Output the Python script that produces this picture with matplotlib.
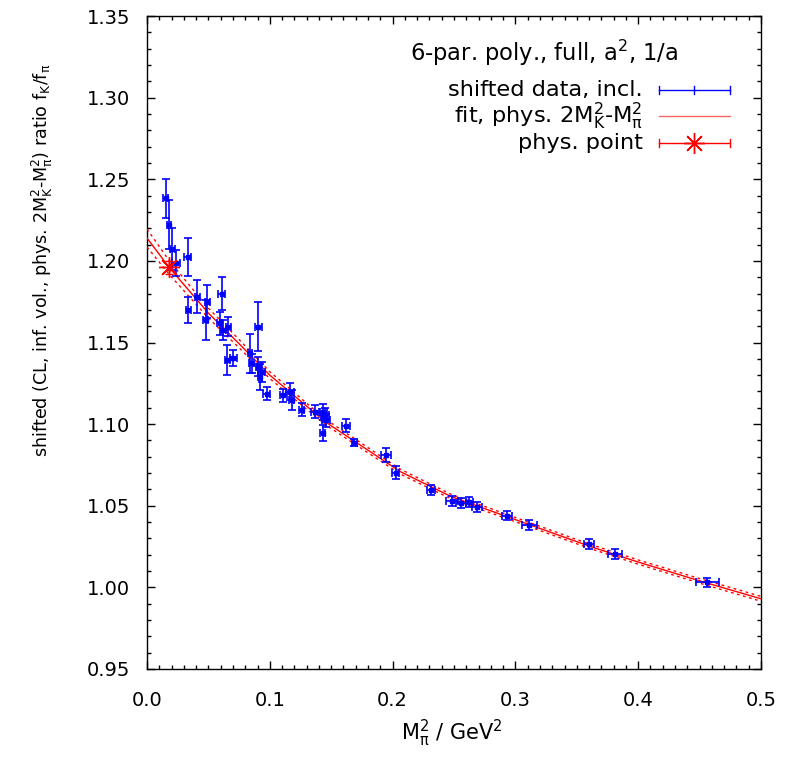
import matplotlib
matplotlib.use("Agg")
import matplotlib.pyplot as plt
import numpy as np
from matplotlib.ticker import MultipleLocator

plt.rcParams['font.family'] = ['DejaVu Sans']
plt.rcParams['mathtext.default'] = 'regular'

# shifted lattice data: M_pi^2 [GeV^2], ratio fK/fpi, errors
data_x = [0.0152, 0.0179, 0.0204, 0.0236, 0.0331, 0.0337, 0.0410, 0.0491, 0.0478,
          0.0608, 0.0594, 0.0622, 0.0662, 0.0654, 0.0703, 0.0839, 0.0907, 0.0852,
          0.0907, 0.0920, 0.0934, 0.0975, 0.1110, 0.1164, 0.1178, 0.1260, 0.1368,
          0.1436, 0.1450, 0.1458, 0.1431, 0.1620, 0.1688, 0.1944, 0.2025, 0.2313,
          0.2481, 0.2557, 0.2625, 0.2690, 0.2934, 0.3113, 0.3597, 0.3811, 0.4563]
data_y = [1.2383, 1.2222, 1.2073, 1.1985, 1.2026, 1.1699, 1.1780, 1.1750, 1.1638,
          1.1800, 1.1618, 1.1577, 1.1597, 1.1393, 1.1403, 1.1434, 1.1597, 1.1372,
          1.1352, 1.1290, 1.1321, 1.1185, 1.1178, 1.1199, 1.1148, 1.1087, 1.1076,
          1.1076, 1.1056, 1.1025, 1.0944, 1.0989, 1.0886, 1.0811, 1.0703, 1.0598,
          1.0529, 1.0519, 1.0525, 1.0490, 1.0440, 1.0380, 1.0266, 1.0205, 1.0030]
data_yerr = [0.012, 0.015, 0.013, 0.008, 0.0116, 0.008, 0.010, 0.010, 0.012,
             0.010, 0.007, 0.006, 0.006, 0.009, 0.005, 0.012, 0.015, 0.006,
             0.006, 0.008, 0.006, 0.004, 0.004, 0.005, 0.006, 0.004, 0.004,
             0.005, 0.004, 0.004, 0.005, 0.004, 0.002, 0.004, 0.004, 0.003,
             0.003, 0.003, 0.003, 0.003, 0.003, 0.003, 0.003, 0.003, 0.003]
data_xerr = [0.002, 0.002, 0.002, 0.003, 0.003, 0.002, 0.002, 0.002, 0.002,
             0.003, 0.002, 0.002, 0.002, 0.002, 0.003, 0.002, 0.003, 0.002,
             0.002, 0.002, 0.003, 0.003, 0.003, 0.003, 0.002, 0.002, 0.003,
             0.003, 0.003, 0.003, 0.002, 0.003, 0.002, 0.004, 0.003, 0.003,
             0.005, 0.004, 0.003, 0.004, 0.004, 0.006, 0.004, 0.006, 0.0095]

# fit curve and its error band half-width
fit_x = [0.000, 0.018, 0.050, 0.076, 0.100, 0.145, 0.206, 0.248, 0.300, 0.360, 0.400, 0.450, 0.500]
fit_y = [1.214, 1.196, 1.168, 1.1485, 1.130, 1.1015, 1.071, 1.0555, 1.0415, 1.0253, 1.0155, 1.004, 0.993]
fit_err = [0.0055, 0.0042, 0.0030, 0.0025, 0.0021, 0.0017, 0.0015, 0.0014, 0.0013, 0.0013, 0.0013, 0.0014, 0.0015]

# physical point
phys_x = [0.0182]
phys_y = [1.196]
phys_xerr = [0.0005]
phys_yerr = [0.004]

title_text = "6-par. poly., full, a$^2$, 1/a"
labels = ["shifted data, incl.", r"fit, phys. 2M$_K^2$-M$_\pi^2$", "phys. point"]

BLUE = "#0000ff"
RED = "#ff0000"

fig = plt.figure(figsize=(7.91, 7.57), dpi=100)
ax = fig.add_axes([147/791, 1-669/757, 614/791, 653/757])

fx = np.array(fit_x); fy = np.array(fit_y); fe = np.array(fit_err)
ax.plot(fx, fy, color=RED, lw=1.0, zorder=3)
ax.plot(fx, fy + fe, color=RED, lw=1.0, ls=(0, (2, 2.5)), zorder=3)
ax.plot(fx, fy - fe, color=RED, lw=1.0, ls=(0, (2, 2.5)), zorder=3)

ax.errorbar(data_x, data_y, xerr=data_xerr, yerr=data_yerr, fmt='s', ms=2.5,
            color=BLUE, ecolor=BLUE, elinewidth=1.2, capsize=3, capthick=1.2, zorder=4)

ax.errorbar(phys_x, phys_y, xerr=phys_xerr, yerr=phys_yerr, fmt='none',
            ecolor=RED, elinewidth=1.0, capsize=3, zorder=5)
ax.plot(phys_x, phys_y, ls='none', marker=(8, 2, 0), ms=15, mec=RED, mew=1.0, zorder=5)

ax.set_xlim(0.0, 0.5)
ax.set_ylim(0.95, 1.35)
ax.xaxis.set_major_locator(MultipleLocator(0.1))
ax.xaxis.set_minor_locator(MultipleLocator(0.01))
ax.yaxis.set_major_locator(MultipleLocator(0.05))
ax.yaxis.set_minor_locator(MultipleLocator(0.01))
ax.xaxis.set_major_formatter(matplotlib.ticker.FormatStrFormatter('%.1f'))
ax.yaxis.set_major_formatter(matplotlib.ticker.FormatStrFormatter('%.2f'))
ax.tick_params(which='both', direction='in', top=True, right=True, labelsize=14, width=1)
ax.tick_params(which='major', length=6)
ax.tick_params(which='minor', length=3)
ax.tick_params(axis='x', which='major', pad=16)
ax.tick_params(axis='y', which='major', pad=12)
for s in ax.spines.values():
    s.set_linewidth(1.0)

ax.set_xlabel(r"M$_\pi^2$ / GeV$^2$", fontsize=15, va='center')
ax.xaxis.set_label_coords(0.497, -0.098)
ax.set_ylabel(r"shifted (CL, inf. vol., phys. 2M$_K^2$-M$_\pi^2$) ratio f$_K$/f$_\pi$",
              fontsize=12.6, va='center')
ax.yaxis.set_label_coords(-0.171, 0.626)

# legend (drawn in axes coordinates)
T = ax.transAxes
ax.text(0.647, 0.943, title_text, transform=T, ha='center', va='center', fontsize=16.3)
rows = [0.8867, 0.8469, 0.8060]
x0, x1, xc = 0.834, 0.949, 0.8915
for lab, yy in zip(labels, rows):
    ax.text(0.808, yy, lab, transform=T, ha='right', va='center', fontsize=16.2)
dy = 0.006
# entry 1
ax.plot([x0, x1], [rows[0]]*2, color=BLUE, lw=1.0, transform=T, clip_on=False)
for xx in (x0, x1, xc):
    ax.plot([xx, xx], [rows[0]-dy, rows[0]+dy], color=BLUE, lw=1.0, transform=T, clip_on=False)
# entry 2
ax.plot([x0, x1], [rows[1]]*2, color=RED, lw=1.0, alpha=0.6, transform=T, clip_on=False)
# entry 3
ax.plot([x0, x1], [rows[2]]*2, color=RED, lw=1.0, transform=T, clip_on=False)
for xx in (x0, x1):
    ax.plot([xx, xx], [rows[2]-dy, rows[2]+dy], color=RED, lw=1.0, transform=T, clip_on=False)
ax.plot([xc], [rows[2]], marker=(8, 2, 0), ms=15, mec=RED, mew=1.0, transform=T, clip_on=False)

fig.savefig("out.png", dpi=100)
